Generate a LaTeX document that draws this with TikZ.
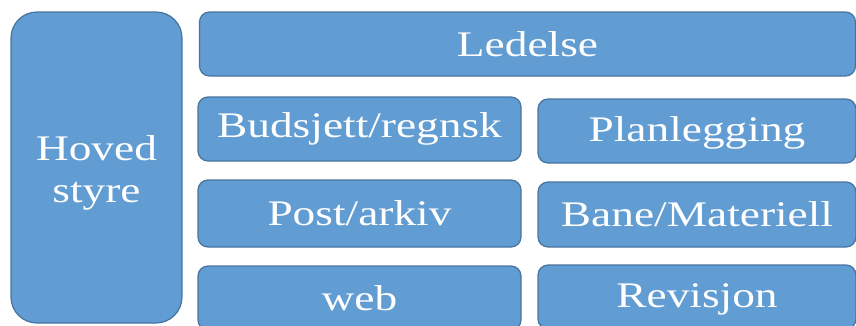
\documentclass[tikz,border=0pt]{standalone}
\usepackage{fontspec}
\setmainfont[FakeStretch=1.26]{Liberation Serif}
\definecolor{boxfill}{RGB}{97,156,210}
\definecolor{boxline}{RGB}{72,115,158}
\tikzset{
  box/.style={draw=boxline, line width=1.2pt, fill=boxfill, rounded corners=10pt,
    text=white, font=\fontsize{36}{42}\selectfont, inner sep=0pt, anchor=center, align=center},
}
\begin{document}
\begin{tikzpicture}
\useasboundingbox (0,0) rectangle (856pt,-325pt);
\clip (0,0) rectangle (856pt,-325pt);
\node[box, rounded corners=26pt, minimum width=171pt, minimum height=311pt] (hoved) at (96.5pt,-167.5pt) {};
\node[text=white, font=\fontsize{36}{42}\selectfont, align=center, inner sep=0pt] (hovedtxt) at ([yshift=-5pt]hoved.center) {Hoved\\styre};
\node[box, minimum width=656pt, minimum height=64pt] (ledelse) at (527.5pt,-44pt) {Ledelse};
\node[box, minimum width=323pt, minimum height=64pt] (budsjett) at (359.5pt,-129pt) {Budsjett/regnsk};
\node[box, minimum width=318pt, minimum height=64pt, text depth=3pt] (plan) at (697pt,-131pt) {Planlegging};
\node[box, minimum width=323pt, minimum height=67pt] (post) at (359.5pt,-213.5pt) {Post/arkiv};
\node[box, minimum width=318pt, minimum height=65pt] (bane) at (697pt,-214.5pt) {Bane/Materiell};
\node[box, minimum width=323pt, minimum height=64pt] (web) at (359.5pt,-298pt) {web};
\node[box, minimum width=318pt, minimum height=64pt, text depth=3pt] (rev) at (697pt,-297pt) {Revisjon};
\end{tikzpicture}
\end{document}
